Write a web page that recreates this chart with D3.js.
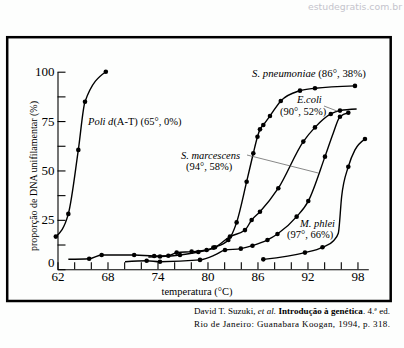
<!DOCTYPE html>
<html><head><meta charset="utf-8">
<script src="https://cdn.jsdelivr.net/npm/d3@7"></script>
<style>body{margin:0;background:#fff}svg{display:block}</style>
</head><body>
<svg id="c" width="404" height="348"></svg>
<script>
// ---- data ----
const xMajorTicks = [62, 68, 74, 80, 86, 92, 98];
const xMinorTicks = [64, 66, 70, 72, 76, 78, 82, 84, 88, 90, 94, 96];
const yMajorTicks = [0, 25, 50, 75, 100];
const yMinorTicks = [12.5, 37.5, 62.5, 87.5];

const poliX = [61.8, 63.3, 64.5, 65.3, 67.8];
const poliY = [16.5, 28.0, 60.4, 84.8, 100];
const poliMarks = [1, 1, 1, 1, 1];

const pneumoX = [63.3, 65.8, 67.3, 71.2, 73.6, 75.3, 76.3, 78.1, 79.9, 80.7, 82.5, 83.5, 84.7, 85.5, 86.0, 86.3, 86.7, 87.5, 88.8, 91.1, 92.9, 97.7];
const pneumoY = [5.0, 5.3, 7.2, 7.2, 6.7, 6.8, 8.4, 8.9, 9.7, 10.9, 14.8, 23.7, 44.3, 58.7, 67.1, 70.8, 73.0, 77.6, 85.2, 90.4, 91.6, 92.8];
const pneumoMarks = [0, 1, 1, 1, 1, 1, 1, 1, 1, 1, 1, 1, 1, 1, 1, 1, 1, 1, 1, 1, 1, 1];

const coliX = [72.9, 74.3, 76.7, 78.9, 80.9, 82.7, 84.5, 85.3, 86.3, 88.5, 91.5, 92.9, 94.8, 95.9, 97.9];
const coliY = [6.2, 6.4, 7.2, 8.7, 11.1, 16.5, 19.8, 24.9, 29.1, 41.0, 64.6, 71.8, 78.6, 80.3, 81.1];
const coliMarks = [0, 1, 1, 1, 1, 1, 1, 1, 1, 1, 1, 1, 1, 1, 0];

const marcX = [70.1, 72.7, 74.3, 79.1, 80.9, 82.1, 84.0, 85.4, 87.2, 88.4, 90.7, 92.1, 94.1, 95.1, 95.9, 96.9];
const marcY = [3.8, 4.3, 3.8, 4.7, 7.2, 9.7, 10.4, 11.9, 14.8, 17.8, 26.6, 34.5, 57.0, 69.0, 77.2, 79.2];
const marcMarks = [0, 1, 1, 1, 0, 1, 1, 1, 1, 1, 1, 1, 1, 0, 1, 1];

const phleiX = [86.7, 91.7, 93.8, 95.1, 95.7, 96.1, 96.9, 97.7, 98.9];
const phleiY = [5.0, 8.4, 11.1, 14.3, 18.2, 36.7, 51.9, 60.4, 65.9];
const phleiMarks = [1, 1, 1, 0, 0, 0, 1, 0, 1];

const yTitle = "proporção de DNA unifilamentar (%)";
const xTitle = "temperatura (°C)";
const citation1 = ["David T. Suzuki, ", "et al.", " ", "Introdução à genética", ". 4.ª ed."];
const citation2 = "Rio de Janeiro: Guanabara Koogan, 1994, p. 318.";
const watermark = "estudegratis.com.br";

// ---- drawing ----
const svg = d3.select("#c");
const serif = "'Liberation Serif', 'Times New Roman', serif";

svg.append("rect").attr("width", 404).attr("height", 348).attr("fill", "#fdfefd");

svg.append("text").attr("x", 308).attr("y", 10)
  .attr("font-family", "'DejaVu Sans', sans-serif").attr("font-size", 9)
  .attr("fill", "#c4c4cc").attr("textLength", 94).attr("lengthAdjust", "spacingAndGlyphs")
  .text(watermark);

svg.append("rect").attr("x", 7.2).attr("y", 37.2).attr("width", 383.5).attr("height", 263.8)
  .attr("fill", "none").attr("stroke", "#000").attr("stroke-width", 2.5);

const x = d3.scaleLinear().domain([62, 99.3]).range([57.5, 368.3]);
const y = d3.scaleLinear().domain([0, 100]).range([269.2, 71.7]);

// y axis
const gy = svg.append("g").attr("transform", `translate(${x(62)},0)`);
gy.call(d3.axisLeft(y).tickValues(yMajorTicks).tickSizeInner(-8).tickSizeOuter(0).tickPadding(3));
const gy2 = svg.append("g").attr("transform", `translate(${x(62)},0)`);
gy2.call(d3.axisLeft(y).tickValues(yMinorTicks).tickSizeInner(-8).tickSizeOuter(0).tickFormat(""));
gy2.select(".domain").remove();
gy.selectAll("text").attr("font-family", serif).attr("font-size", 13).attr("fill", "#000");
gy.selectAll(".tick").filter(d => d === 0).select("text").attr("y", -7);

// x axis
const gx = svg.append("g").attr("transform", `translate(0,${y(0)})`);
gx.call(d3.axisBottom(x).tickValues(xMajorTicks).tickSizeInner(-7).tickSizeOuter(0).tickPadding(3));
const gx2 = svg.append("g").attr("transform", `translate(0,${y(0)})`);
gx2.call(d3.axisBottom(x).tickValues(xMinorTicks).tickSizeInner(-7).tickSizeOuter(0).tickFormat(""));
gx2.select(".domain").remove();
gx.selectAll("text").attr("font-family", serif).attr("font-size", 13).attr("fill", "#000");
svg.selectAll(".domain, .tick line").attr("stroke", "#000").attr("stroke-width", 1.1);

// titles
svg.append("text").attr("transform", "translate(37,176) rotate(-90)")
  .attr("text-anchor", "middle").attr("font-family", serif).attr("font-size", 10)
  .text(yTitle);
svg.append("text").attr("x", 197).attr("y", 295)
  .attr("text-anchor", "middle").attr("font-family", serif).attr("font-size", 10.5)
  .text(xTitle);

// curves
const line = d3.line().x(d => x(d[0])).y(d => y(d[1])).curve(d3.curveMonotoneX);
const series = [
  {xs: poliX, ys: poliY, ms: poliMarks},
  {xs: pneumoX, ys: pneumoY, ms: pneumoMarks},
  {xs: coliX, ys: coliY, ms: coliMarks},
  {xs: marcX, ys: marcY, ms: marcMarks},
  {xs: phleiX, ys: phleiY, ms: phleiMarks}
];
series.forEach(s => {
  const pts = s.xs.map((v, i) => [v, s.ys[i], s.ms[i]]);
  svg.append("path").datum(pts).attr("d", line)
    .attr("fill", "none").attr("stroke", "#000").attr("stroke-width", 1.4);
  svg.append("g").selectAll("circle").data(pts.filter(d => d[2])).join("circle")
    .attr("cx", d => x(d[0])).attr("cy", d => y(d[1])).attr("r", 2.3).attr("fill", "#000");
});

// leader lines
svg.append("line").attr("x1", 247).attr("y1", 155).attr("x2", x(93.3)).attr("y2", y(48.7))
  .attr("stroke", "#555").attr("stroke-width", 0.7);
svg.append("line").attr("x1", 324).attr("y1", 106).attr("x2", x(95.6)).attr("y2", y(80.0))
  .attr("stroke", "#555").attr("stroke-width", 0.7);

// labels
function label(xp, yp, parts, size) {
  const t = svg.append("text").attr("x", xp).attr("y", yp)
    .attr("font-family", serif).attr("font-size", size).attr("fill", "#000");
  parts.forEach(p => t.append("tspan").attr("font-style", p[1] ? "italic" : "normal").text(p[0]));
  return t;
}
label(88, 124.5, [["Poli d", true], ["(A-T) (65°, 0%)", false]], 10.5);
label(252, 76.5, [["S. pneumoniae", true], [" (86°, 38%)", false]], 10.8);
label(297, 103, [["E.coli", true]], 10.5);
label(280, 114.5, [["(90°, 52%)", false]], 10.5);
label(181, 158.5, [["S. marcescens", true]], 10.5);
label(186, 170, [["(94°, 58%)", false]], 10.5);
label(300, 227, [["M. phlei", true]], 10.5);
label(287, 238, [["(97°, 66%)", false]], 10.5);

// citation
const c1 = svg.append("text").attr("x", 194).attr("y", 314)
  .attr("font-family", serif).attr("font-size", 9).attr("textLength", 196).attr("lengthAdjust", "spacing");
c1.append("tspan").text(citation1[0]);
c1.append("tspan").attr("font-style", "italic").text(citation1[1]);
c1.append("tspan").text(citation1[2]);
c1.append("tspan").attr("font-weight", "bold").text(citation1[3]);
c1.append("tspan").text(citation1[4]);
svg.append("text").attr("x", 194).attr("y", 327)
  .attr("font-family", serif).attr("font-size", 9).attr("textLength", 196).attr("lengthAdjust", "spacing")
  .text(citation2);
</script>
</body></html>
